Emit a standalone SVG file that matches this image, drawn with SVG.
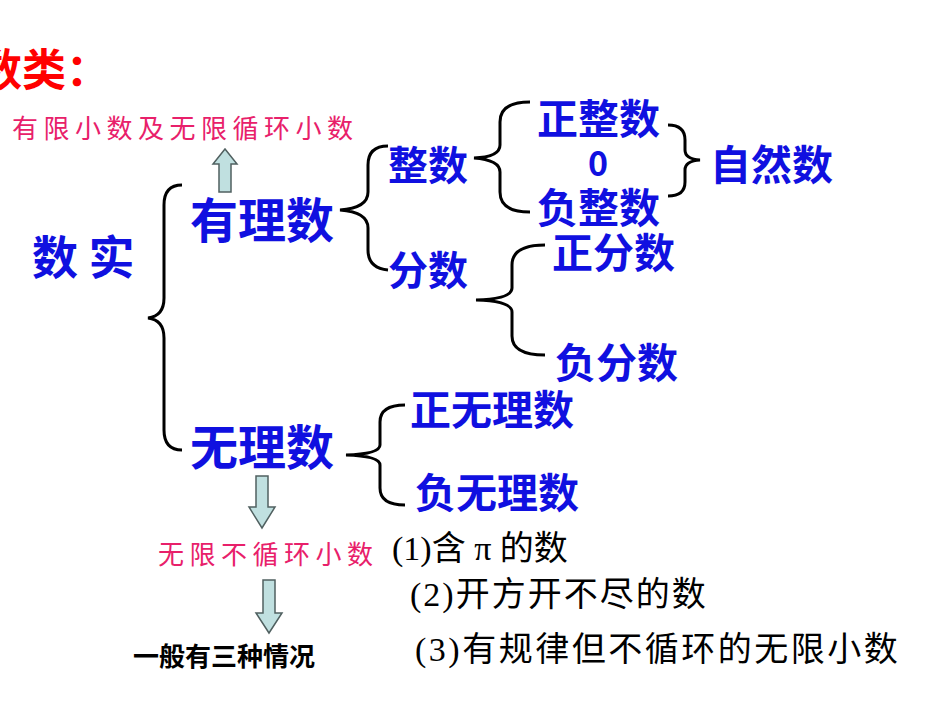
<svg xmlns="http://www.w3.org/2000/svg" width="950" height="713" viewBox="0 0 950 713">
<style>
.b{font-family:"Noto Sans CJK SC","Liberation Sans",sans-serif;font-weight:bold;fill:#1010e0}
.p{font-family:"Noto Sans CJK SC",serif;fill:#e8206a;font-size:26px;letter-spacing:5.5px}
.s{font-family:"Liberation Serif","Noto Sans CJK SC",serif;font-size:34px;fill:#000}
.br{fill:none;stroke:#000;stroke-width:3}
.ar{fill:#c0e0e0;stroke:#506060;stroke-width:1.5}
</style>
<rect width="950" height="713" fill="#fff"/>
<text x="-22" y="86" font-family="Noto Sans CJK SC,sans-serif" font-weight="bold" font-size="44" fill="#ff0000">数类：</text>
<g id="real"><text class="b" x="32" y="274" font-size="46">数 实</text></g>
<g id="rational"><text class="b" x="190" y="238" font-size="48">有理数</text></g>
<g id="irrational"><text class="b" x="190" y="465" font-size="48">无理数</text></g>
<g id="integer"><text class="b" x="388" y="180" font-size="40">整数</text></g>
<g id="fraction"><text class="b" x="388" y="285" font-size="40">分数</text></g>
<g id="posint"><text class="b" x="537" y="134" font-size="41">正整数</text></g>
<g id="zero"><text class="b" x="588" y="176" font-size="34" font-family="Liberation Sans">0</text></g>
<g id="negint"><text class="b" x="537" y="223" font-size="41">负整数</text></g>
<g id="natural"><text class="b" x="710" y="180" font-size="41">自然数</text></g>
<g id="posfrac"><text class="b" x="552" y="268" font-size="41">正分数</text></g>
<g id="negfrac"><text class="b" x="555" y="378" font-size="41">负分数</text></g>
<g id="posirr"><text class="b" x="410" y="425" font-size="41">正无理数</text></g>
<g id="negirr"><text class="b" x="415" y="508" font-size="41">负无理数</text></g>
<g id="finite"><text class="p" x="12" y="138">有限小数及无限循环小数</text></g>
<g id="infinite"><text class="p" x="158" y="564">无限不循环小数</text></g>
<g id="three"><text x="133" y="666" font-family="Noto Sans CJK SC,sans-serif" font-weight="bold" font-size="26">一般有三种情况</text></g>
<g id="c1"><text class="s" x="392" y="560">(1)含 π 的数</text></g>
<g id="c2"><text class="s" x="410" y="606" letter-spacing="2">(2)开方开不尽的数</text></g>
<g id="c3"><text class="s" x="415" y="661" letter-spacing="2.5">(3)有规律但不循环的无限小数</text></g>
<g id="connectors">
<path class="br" d="M182,185 Q164,185 164,205 L164,298 Q164,316 148,318 Q164,320 164,338 L164,430 Q164,450 182,450"/>
<path class="br" d="M388,146 Q368,146 368,165 L368,192 Q368,208 340,210 Q368,212 368,228 L368,250 Q368,268 388,270"/>
<path class="br" d="M530,102 Q500,102 500,122 L500,145 Q500,157 474,158 Q500,160 500,172 L500,192 Q500,212 530,212"/>
<path class="br" d="M668,125 Q685,125 685,140 L685,150 Q685,159 700,160 Q685,161 685,170 L685,182 Q685,196 668,196"/>
<path class="br" d="M545,245 Q512,245 512,265 L512,288 Q512,299 476,300 Q512,301 512,312 L512,336 Q512,355 545,355"/>
<path class="br" d="M405,405 Q380,405 380,422 L380,445 Q380,454 346,455 Q380,456 380,465 L380,488 Q380,505 405,505"/>
<path class="ar" d="M219,192 L219,164 L213,164 L225,149 L237,164 L231,164 L231,192 Z"/>
<path class="ar" d="M256,476 L268,476 L268,507 L275,507 L262,528 L249,507 L256,507 Z"/>
<path class="ar" d="M263,580 L275,580 L275,613 L282,613 L269,633 L256,613 L263,613 Z"/>
</g>
</svg>
